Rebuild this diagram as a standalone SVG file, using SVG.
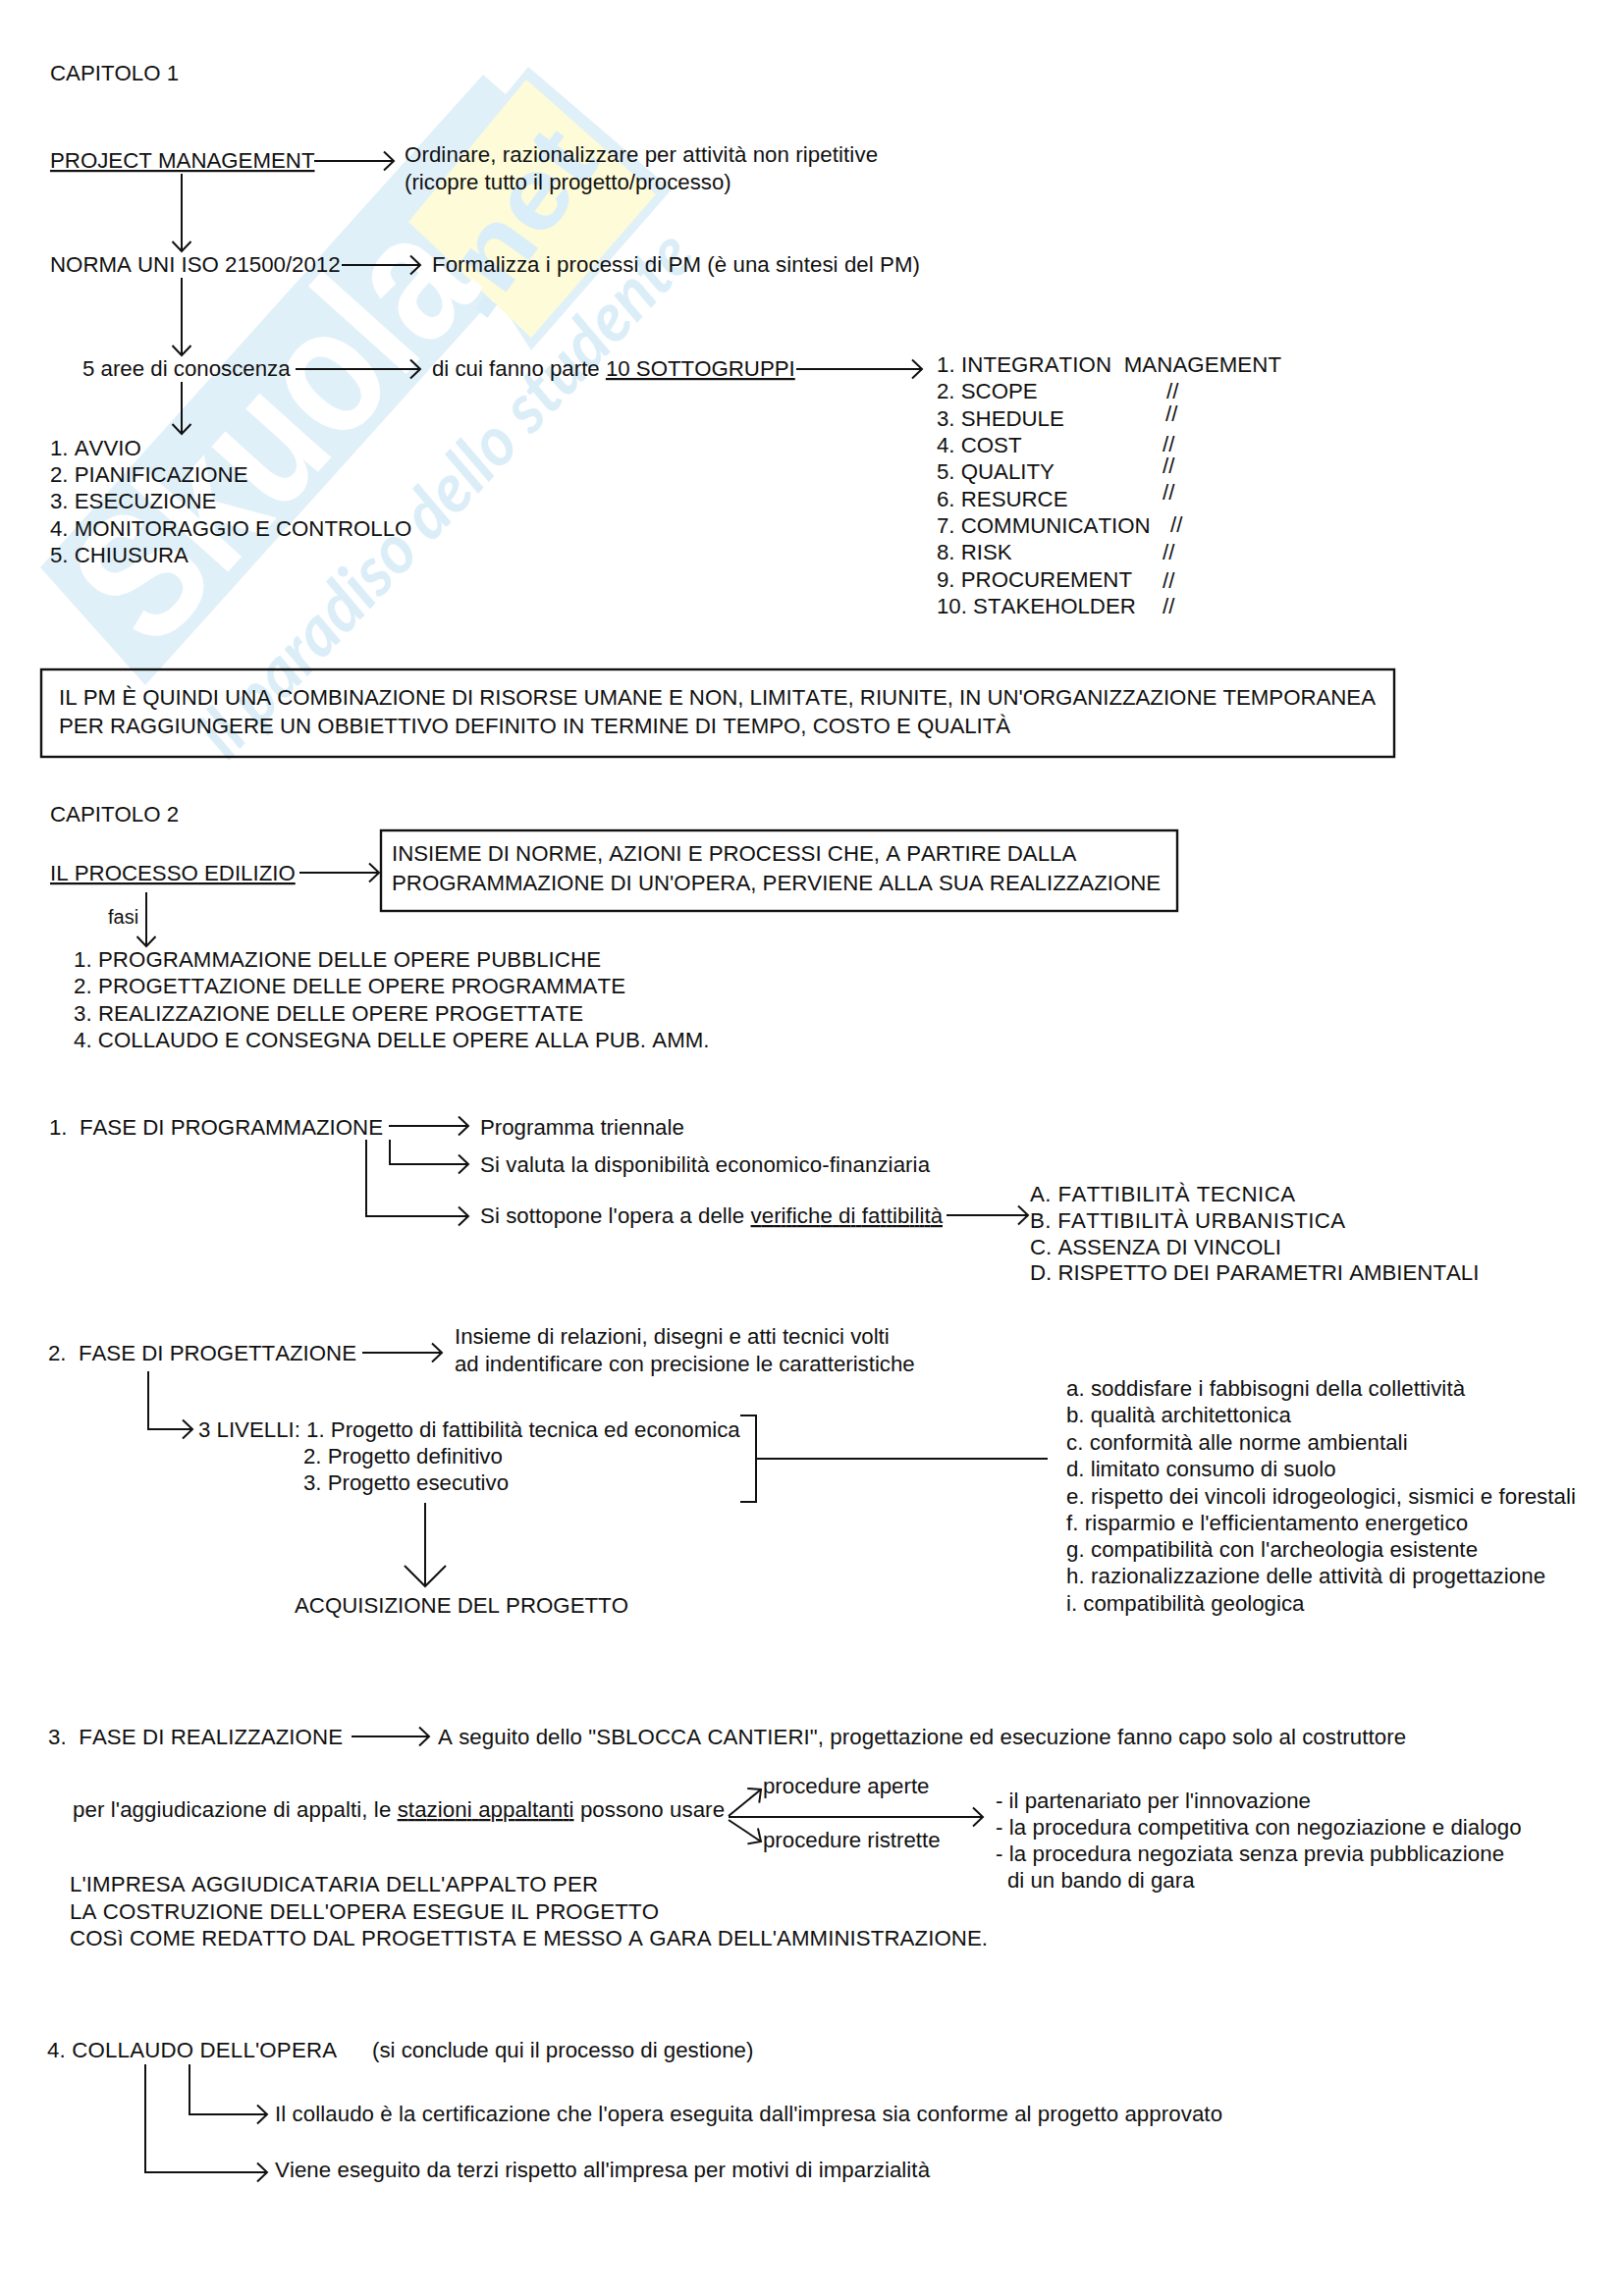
<svg xmlns="http://www.w3.org/2000/svg" width="1653" height="2339" viewBox="0 0 1653 2339">
<style>
text{font-family:"Liberation Sans",Arial,sans-serif;font-size:22.25px;font-kerning:none;fill:#111;white-space:pre}
.f{font-size:20px}
.u{text-decoration:underline}
.c{fill:none;stroke:#111;stroke-width:2;marker-end:url(#a)}
.p{fill:none;stroke:#111;stroke-width:2}
.b{fill:none;stroke:#111;stroke-width:2.4}
.w{font-weight:700;fill:#fff;font-size:185px;font-kerning:auto}
.wn{font-weight:700;fill:#d9eef8;font-size:105px;font-kerning:auto}
.ws{font-style:italic;font-weight:700;fill:#dbeef8;font-size:70px;font-family:"Lato","Liberation Sans",sans-serif;font-kerning:auto}
</style>
<defs>
<marker id="a" markerUnits="userSpaceOnUse" markerWidth="16" markerHeight="26" refX="13" refY="13" orient="auto"><path d="M3 3.5L13 13L3 22.5" fill="none" stroke="#111" stroke-width="2"/></marker>
<marker id="big" markerUnits="userSpaceOnUse" markerWidth="28" markerHeight="48" refX="25" refY="24" orient="auto"><path d="M4 3L25 24L4 45" fill="none" stroke="#111" stroke-width="2"/></marker>
</defs>
<rect width="1653" height="2339" fill="#fff"/>
<g id="watermark">
<polygon points="41,578 492,76 515,96 538,68 684,193 541,357 505,301 148,698" fill="#e0f0f9"/>
<polygon points="536,81 668,198 541,344 416,226" fill="#fdfbd8"/>
<text class="w" transform="translate(157,666) rotate(-48)" textLength="500" lengthAdjust="spacingAndGlyphs">Skuola</text>
<text class="wn" transform="translate(492,330) rotate(-54)" textLength="205" lengthAdjust="spacingAndGlyphs">.net</text>
<text class="ws" transform="translate(232,776) rotate(-47)" textLength="702" lengthAdjust="spacingAndGlyphs">il paradiso dello studente</text>
</g>
<g id="connectors">
<path class="c" d="M320 164H401"/>
<path class="c" d="M185 177V256"/>
<path class="c" d="M348 270H428"/>
<path class="c" d="M185 283V362"/>
<path class="c" d="M301 376H428"/>
<path class="c" d="M811 376H939"/>
<path class="c" d="M185 389V442"/>
<path class="c" d="M305 889H386"/>
<path class="c" d="M149 909V964"/>
<path class="c" d="M396 1147H477"/>
<path class="c" d="M397 1161V1186H477"/>
<path class="c" d="M373 1161V1239H477"/>
<path class="c" d="M964 1238H1047"/>
<path class="c" d="M369 1378H450"/>
<path class="c" d="M151 1397V1456H196"/>
<path class="p" d="M754 1442H770V1530H754M770 1486H1067"/>
<path class="p" style="marker-end:url(#big)" d="M433 1531V1616"/>
<path class="c" d="M358 1769H437"/>
<path class="c" d="M742 1850L775 1823"/>
<path class="c" d="M742 1851H1001"/>
<path class="c" d="M742 1854L775 1876"/>
<path class="c" d="M193 2103V2154H272"/>
<path class="c" d="M148 2103V2213H272"/>
</g>
<g id="cap1"><text x="51" y="82">CAPITOLO 1</text></g>
<g id="pm"><text class="u" x="51" y="171">PROJECT MANAGEMENT</text></g>
<g id="pm-def"><text x="412" y="165" textLength="482">Ordinare, razionalizzare per attività non ripetitive</text><text x="412" y="192.5">(ricopre tutto il progetto/processo)</text></g>
<g id="norma"><text x="51" y="277">NORMA UNI ISO 21500/2012</text></g>
<g id="norma-def"><text x="440" y="277" textLength="497">Formalizza i processi di PM (è una sintesi del PM)</text></g>
<g id="aree"><text x="84" y="383">5 aree di conoscenza</text></g>
<g id="sottogruppi"><text x="440" y="383">di cui fanno parte <tspan class="u">10 SOTTOGRUPPI</tspan></text></g>
<g id="fasi-pm">
<text x="51" y="464">1. AVVIO</text><text x="51" y="491">2. PIANIFICAZIONE</text><text x="51" y="518">3. ESECUZIONE</text><text x="51" y="546">4. MONITORAGGIO E CONTROLLO</text><text x="51" y="573">5. CHIUSURA</text>
</g>
<g id="lista-10">
<text x="954" y="379" textLength="351">1. INTEGRATION  MANAGEMENT</text>
<text x="954" y="406">2. SCOPE</text><text x="1188" y="406">//</text>
<text x="954" y="434">3. SHEDULE</text><text x="1187" y="429">//</text>
<text x="954" y="461">4. COST</text><text x="1184" y="460">//</text>
<text x="954" y="488">5. QUALITY</text><text x="1184" y="482">//</text>
<text x="954" y="516">6. RESURCE</text><text x="1184" y="509">//</text>
<text x="954" y="543">7. COMMUNICATION</text><text x="1192" y="542">//</text>
<text x="954" y="570">8. RISK</text><text x="1184" y="570">//</text>
<text x="954" y="598">9. PROCUREMENT</text><text x="1184" y="599">//</text>
<text x="954" y="625">10. STAKEHOLDER</text><text x="1184" y="625">//</text>
</g>
<g id="box-pm"><rect class="b" x="42" y="682" width="1378" height="89"/>
<text x="60" y="718" textLength="1341">IL PM È QUINDI UNA COMBINAZIONE DI RISORSE UMANE E NON, LIMITATE, RIUNITE, IN UN'ORGANIZZAZIONE TEMPORANEA</text>
<text x="60" y="747">PER RAGGIUNGERE UN OBBIETTIVO DEFINITO IN TERMINE DI TEMPO, COSTO E QUALITÀ</text></g>
<g id="cap2"><text x="51" y="837">CAPITOLO 2</text></g>
<g id="processo"><text class="u" x="51" y="897">IL PROCESSO EDILIZIO</text></g>
<g id="box-processo"><rect class="b" x="388" y="846" width="811" height="82"/>
<text x="399" y="877">INSIEME DI NORME, AZIONI E PROCESSI CHE, A PARTIRE DALLA</text>
<text x="399" y="907">PROGRAMMAZIONE DI UN'OPERA, PERVIENE ALLA SUA REALIZZAZIONE</text></g>
<g id="fasi"><text class="f" x="110" y="941">fasi</text></g>
<g id="lista-fasi">
<text x="75" y="985" textLength="537">1. PROGRAMMAZIONE DELLE OPERE PUBBLICHE</text>
<text x="75" y="1012" textLength="562">2. PROGETTAZIONE DELLE OPERE PROGRAMMATE</text>
<text x="75" y="1040" textLength="519">3. REALIZZAZIONE DELLE OPERE PROGETTATE</text>
<text x="75" y="1067" textLength="647.5">4. COLLAUDO E CONSEGNA DELLE OPERE ALLA PUB. AMM.</text>
</g>
<g id="fase1"><text x="50" y="1156">1.  FASE DI PROGRAMMAZIONE</text></g>
<g id="fase1-a"><text x="489" y="1156">Programma triennale</text></g>
<g id="fase1-b"><text x="489" y="1194" textLength="458">Si valuta la disponibilità economico-finanziaria</text></g>
<g id="fase1-c"><text x="489" y="1246" textLength="471">Si sottopone l'opera a delle <tspan class="u">verifiche di fattibilità</tspan></text></g>
<g id="fattibilita">
<text x="1049" y="1224" textLength="270">A. FATTIBILITÀ TECNICA</text>
<text x="1049" y="1251" textLength="321">B. FATTIBILITÀ URBANISTICA</text>
<text x="1049" y="1278">C. ASSENZA DI VINCOLI</text>
<text x="1049" y="1304">D. RISPETTO DEI PARAMETRI AMBIENTALI</text>
</g>
<g id="fase2"><text x="49" y="1386">2.  FASE DI PROGETTAZIONE</text></g>
<g id="fase2-def"><text x="463" y="1369">Insieme di relazioni, disegni e atti tecnici volti</text><text x="463" y="1397">ad indentificare con precisione le caratteristiche</text></g>
<g id="livelli">
<text x="202" y="1464">3 LIVELLI: 1. Progetto di fattibilità tecnica ed economica</text>
<text x="309" y="1491">2. Progetto definitivo</text>
<text x="309" y="1518">3. Progetto esecutivo</text>
</g>
<g id="acquisizione"><text x="300" y="1643">ACQUISIZIONE DEL PROGETTO</text></g>
<g id="criteri">
<text x="1086" y="1422" textLength="406">a. soddisfare i fabbisogni della collettività</text>
<text x="1086" y="1449">b. qualità architettonica</text>
<text x="1086" y="1477" textLength="347.6">c. conformità alle norme ambientali</text>
<text x="1086" y="1504">d. limitato consumo di suolo</text>
<text x="1086" y="1532" textLength="519">e. rispetto dei vincoli idrogeologici, sismici e forestali</text>
<text x="1086" y="1559" textLength="409">f. risparmio e l'efficientamento energetico</text>
<text x="1086" y="1586" textLength="419">g. compatibilità con l'archeologia esistente</text>
<text x="1086" y="1613" textLength="488">h. razionalizzazione delle attività di progettazione</text>
<text x="1086" y="1641">i. compatibilità geologica</text>
</g>
<g id="fase3"><text x="49" y="1777" textLength="300">3.  FASE DI REALIZZAZIONE</text></g>
<g id="fase3-def"><text x="446" y="1777" textLength="986">A seguito dello "SBLOCCA CANTIERI", progettazione ed esecuzione fanno capo solo al costruttore</text></g>
<g id="appalti"><text x="74" y="1851" textLength="664">per l'aggiudicazione di appalti, le <tspan class="u">stazioni appaltanti</tspan> possono usare</text></g>
<g id="aperte"><text x="777" y="1827">procedure aperte</text></g>
<g id="ristrette"><text x="777" y="1882">procedure ristrette</text></g>
<g id="procedure">
<text x="1014" y="1842">- il partenariato per l'innovazione</text>
<text x="1014" y="1869" textLength="535.6">- la procedura competitiva con negoziazione e dialogo</text>
<text x="1014" y="1896" textLength="518">- la procedura negoziata senza previa pubblicazione</text>
<text x="1026" y="1923">di un bando di gara</text>
</g>
<g id="impresa">
<text x="71" y="1927" textLength="538">L'IMPRESA AGGIUDICATARIA DELL'APPALTO PER</text>
<text x="71" y="1955" textLength="600">LA COSTRUZIONE DELL'OPERA ESEGUE IL PROGETTO</text>
<text x="71" y="1982" textLength="935">COSì COME REDATTO DAL PROGETTISTA E MESSO A GARA DELL'AMMINISTRAZIONE.</text>
</g>
<g id="fase4"><text x="48" y="2096" textLength="295">4. COLLAUDO DELL'OPERA</text></g>
<g id="fase4-note"><text x="379" y="2096">(si conclude qui il processo di gestione)</text></g>
<g id="collaudo-a"><text x="280" y="2161" textLength="965">Il collaudo è la certificazione che l'opera eseguita dall'impresa sia conforme al progetto approvato</text></g>
<g id="collaudo-b"><text x="280" y="2218" textLength="667">Viene eseguito da terzi rispetto all'impresa per motivi di imparzialità</text></g>
</svg>
